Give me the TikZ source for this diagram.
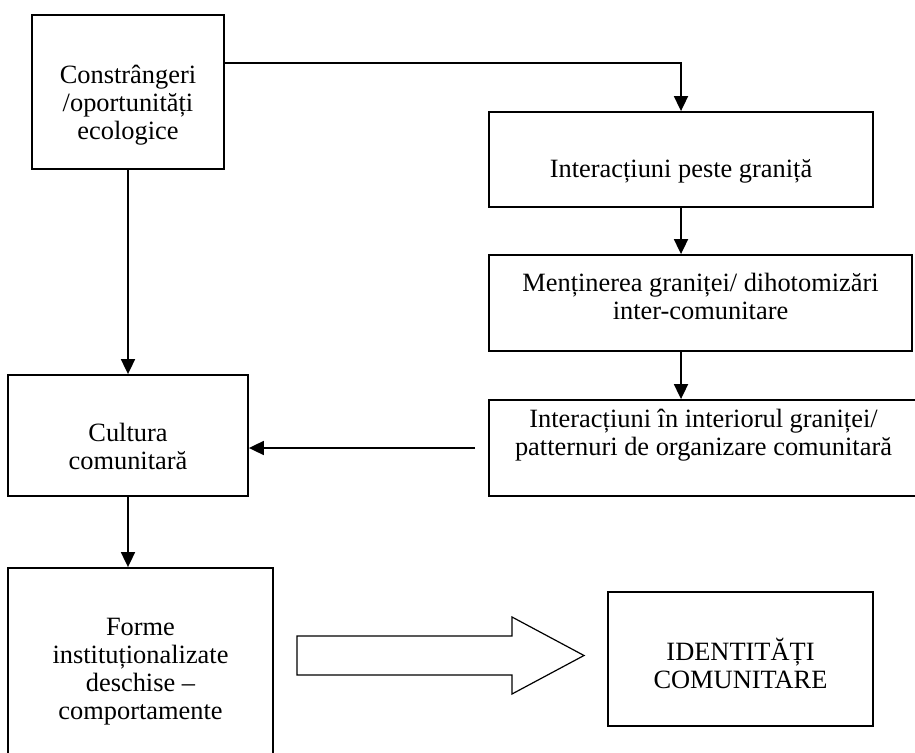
\documentclass[tikz,border=0pt]{standalone}
\usepackage{fontspec}
\setmainfont{Liberation Serif}
\usetikzlibrary{arrows.meta,positioning,shapes}

\begin{document}
\begin{tikzpicture}[x=0.5pt,y=-0.5pt]
        \tikzstyle{box}
	  =[draw, line width=0.9pt, rectangle, inner sep=0pt]
        \tikzstyle{txt}
	  =[align=center, inner sep=0pt, font=\fontsize{13.2}{14}\selectfont]
        \tikzstyle{arr}
	  =[line width=0.9pt, -{Triangle[length=7.5pt, width=7pt]}]
	\useasboundingbox (0,0) rectangle (915,753);

	\node[box, minimum width=96pt, minimum height=77pt] (eco)
	  at (128,92) {};
	\node[txt] (ecotext)
	  at ([yshift=-6.5pt]eco.center) {Constrângeri\\/oportunități\\ecologice};
	\node[box, minimum width=192pt, minimum height=47.5pt] (peste)
	  at (681,159.5) {};
	\node[txt] (pestetext)
	  at ([yshift=-6pt]peste.center) {Interacțiuni peste graniță};
	\node[box, minimum width=211.5pt, minimum height=48pt] (mentinere)
	  at (700.5,303) {};
	\node[txt] (mentineretext)
	  at ([yshift=3.5pt]mentinere.center) {Menținerea graniței/ dihotomizări\\inter-comunitare};
	\node[box, minimum width=214.5pt, minimum height=48pt] (interior)
	  at (703.5,448) {};
	\node[txt] (interiortext)
	  at ([yshift=6.5pt]interior.center) {Interacțiuni în interiorul graniței/\\patternuri de organizare comunitară};
	\node[box, minimum width=120pt, minimum height=60.5pt] (cultura)
	  at (128,435.5) {};
	\node[txt] (culturatext)
	  at ([yshift=-5.5pt]cultura.center) {Cultura\\comunitară};
	\node[box, minimum width=132.5pt, minimum height=103.5pt] (forme)
	  at (140.5,671.5) {};
	\node[txt] (formetext)
	  at (forme.center) {Forme\\instituționalizate\\deschise –\\comportamente};
	\node[box, minimum width=132.5pt, minimum height=67pt] (identitati)
	  at (740.5,659) {};
	\node[txt] (identitatitext)
	  at ([yshift=-2pt]identitati.center) {IDENTITĂȚI\\COMUNITARE};

	\draw[arr] ([yshift=14.5pt]eco.east) -| (peste.north);
	\draw[arr] (peste.south) -- (peste.south |- mentinere.north);
	\draw[arr] (mentinere.south -| peste.south) -- (peste.south |- interior.north);
	\draw[arr] (eco.south) -- (eco.south |- cultura.north);
	\draw[arr] ([xshift=-6.5pt]interior.west) -- (cultura.east |- interior.west);
	\draw[arr] (cultura.south) -- (cultura.south |- forme.north);

	\draw[line width=0.6pt] (297,636) -- (512,636) -- (512,617) -- (584,655.5)
	  -- (512,694) -- (512,675) -- (297,675) -- cycle;
\end{tikzpicture}
\end{document}
